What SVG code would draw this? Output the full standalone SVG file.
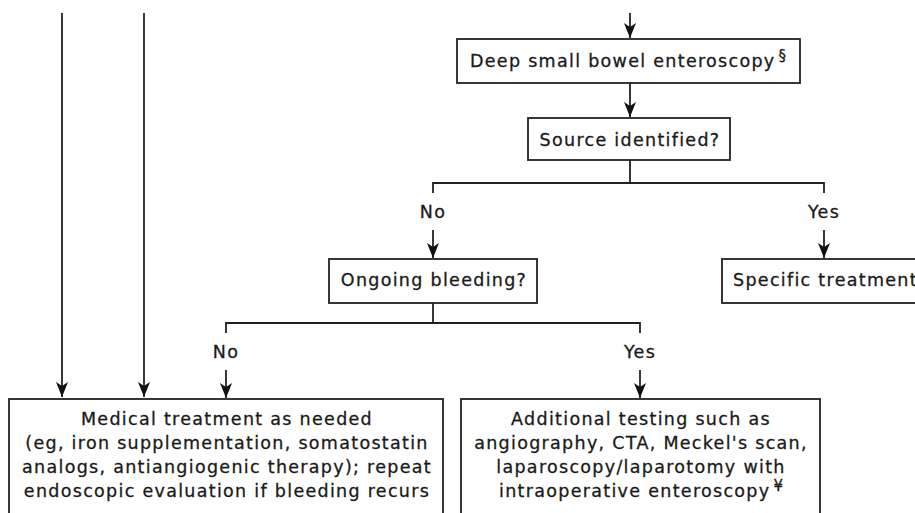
<svg xmlns="http://www.w3.org/2000/svg" width="915" height="513" viewBox="0 0 915 513">
<style>
  .box { fill: #ffffff; stroke: #222222; stroke-width: 1.8; }
  .ln { fill: none; stroke: #222222; stroke-width: 1.8; }
  .t { font-family: "DejaVu Sans", Verdana, sans-serif; font-size: 17.5px; letter-spacing: 1.3px; fill: #1a1a1a; stroke: #1a1a1a; stroke-width: 0.3px; }
  .c { text-anchor: middle; }
  .sup { font-size: 15px; letter-spacing: 0; }
</style>
<defs>
  <marker id="ah" markerUnits="userSpaceOnUse" markerWidth="16" markerHeight="14" viewBox="-15 -7 16 14" refX="0" refY="0" orient="auto">
    <path d="M0,0 L-15,-6 L-11,0 L-15,6 Z" fill="#111111"/>
  </marker>
</defs>
<rect width="915" height="513" fill="#ffffff"/>
<g id="connectors">
  <line class="ln" x1="630" y1="13" x2="630" y2="38" marker-end="url(#ah)"/>
  <line class="ln" x1="62" y1="13" x2="62" y2="397" marker-end="url(#ah)"/>
  <line class="ln" x1="144" y1="13" x2="144" y2="397" marker-end="url(#ah)"/>
  <line class="ln" x1="630" y1="83" x2="630" y2="117" marker-end="url(#ah)"/>
  <path class="ln" d="M630,160 V183 M433,193 V183 H824 V193"/>
  <line class="ln" x1="433" y1="230" x2="433" y2="258" marker-end="url(#ah)"/>
  <line class="ln" x1="824" y1="230" x2="824" y2="258" marker-end="url(#ah)"/>
  <path class="ln" d="M433,303 V323 M226,333 V323 H640 V333"/>
  <line class="ln" x1="226" y1="370" x2="226" y2="398" marker-end="url(#ah)"/>
  <line class="ln" x1="640" y1="370" x2="640" y2="398" marker-end="url(#ah)"/>
  <text class="t c" x="433" y="218">No</text>
  <text class="t c" x="824" y="218">Yes</text>
  <text class="t c" x="226" y="358">No</text>
  <text class="t c" x="640" y="358">Yes</text>
</g>
<g id="node-enteroscopy">
  <rect class="box" x="457" y="39" width="343" height="44"/>
  <text class="t c" x="628" y="67">Deep small bowel enteroscopy<tspan class="sup" dx="3" dy="-6">§</tspan></text>
</g>
<g id="node-source">
  <rect class="box" x="528" y="118" width="202" height="42"/>
  <text class="t c" x="630" y="146">Source identified?</text>
</g>
<g id="node-ongoing">
  <rect class="box" x="329" y="259" width="208" height="44"/>
  <text class="t c" x="434" y="286">Ongoing bleeding?</text>
</g>
<g id="node-specific">
  <rect class="box" x="722" y="259" width="220" height="44"/>
  <text class="t" x="733" y="286">Specific treatment</text>
</g>
<g id="node-medical">
  <rect class="box" x="9" y="399" width="434" height="140"/>
  <text class="t c" x="227" y="425">Medical treatment as needed</text>
  <text class="t c" x="227" y="449">(eg, iron supplementation, somatostatin</text>
  <text class="t c" x="227" y="473">analogs, antiangiogenic therapy); repeat</text>
  <text class="t c" x="227" y="497">endoscopic evaluation if bleeding recurs</text>
</g>
<g id="node-additional">
  <rect class="box" x="461" y="399" width="359" height="140"/>
  <text class="t c" x="641" y="425">Additional testing such as</text>
  <text class="t c" x="641" y="449">angiography, CTA, Meckel's scan,</text>
  <text class="t c" x="641" y="473">laparoscopy/laparotomy with</text>
  <text class="t c" x="641" y="497">intraoperative enteroscopy<tspan class="sup" dx="3" dy="-6">¥</tspan></text>
</g>
</svg>
